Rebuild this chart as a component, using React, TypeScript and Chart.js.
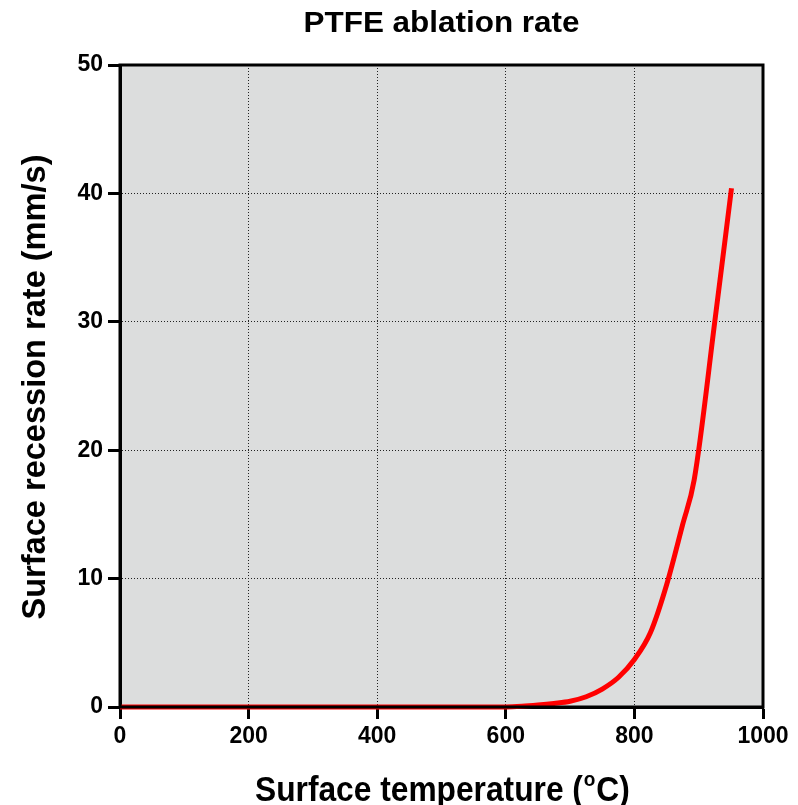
import React, { useEffect, useRef } from "react";
import { Chart, registerables } from "chart.js";

Chart.register(...registerables);

const temperatures = [0, 600, 625, 650, 675, 700, 725, 750, 775, 800, 825, 850, 875, 893, 925, 951];
const rates = [0, 0, 0.05, 0.15, 0.28, 0.45, 0.8, 1.4, 2.3, 3.7, 5.8, 9.5, 14.2, 17.7, 30.0, 40.4];
const xTicks = [0, 200, 400, 600, 800, 1000];
const yTicks = [0, 10, 20, 30, 40, 50];
const chartTitle = "PTFE ablation rate";
const xTitleParts = ["Surface temperature (", "o", "C)"];
const yTitle = "Surface recession rate (mm/s)";

const FONT = "'Liberation Sans', Arial, Helvetica, sans-serif";

function fittedText(ctx: any, text: string, x: number, y: number, size: number, targetW: number) {
  ctx.save();
  ctx.font = `bold ${size}px ${FONT}`;
  const w = ctx.measureText(text).width;
  const sx = targetW / w;
  ctx.translate(x, y);
  ctx.scale(sx, 1);
  ctx.textAlign = "center";
  ctx.textBaseline = "alphabetic";
  ctx.fillText(text, 0, 0);
  ctx.restore();
}

const framePlugin = {
  id: "frame",
  beforeDraw(chart: any) {
    const { ctx, chartArea: a } = chart;
    ctx.save();
    ctx.fillStyle = "#dcdddd";
    ctx.fillRect(a.left, a.top, a.right - a.left, a.bottom - a.top);
    ctx.restore();
  },
  afterDatasetsDraw(chart: any) {
    const { ctx, chartArea: a } = chart;
    ctx.save();
    ctx.strokeStyle = "#000";
    ctx.lineWidth = 3;
    ctx.strokeRect(a.left, a.top, a.right - a.left, a.bottom - a.top);
    ctx.restore();
  },
  afterDraw(chart: any) {
    const { ctx, chartArea: a } = chart;
    const cx = (a.left + a.right) / 2;
    const cy = (a.top + a.bottom) / 2;
    ctx.save();
    ctx.fillStyle = "#000";

    // title
    fittedText(ctx, chartTitle, cx, 32, 29, 276);

    // x-axis title with superscript
    const bigSize = 35;
    const big = `bold ${bigSize}px ${FONT}`;
    const small = `bold 21px ${FONT}`;
    ctx.font = big;
    const w0 = ctx.measureText(xTitleParts[0]).width;
    const w2 = ctx.measureText(xTitleParts[2]).width;
    ctx.font = small;
    const w1 = ctx.measureText(xTitleParts[1]).width;
    const total = w0 + w1 + w2;
    const target = 373;
    const sx = target / total;
    ctx.save();
    ctx.translate(cx - target / 2, 801);
    ctx.scale(sx, 1);
    ctx.textAlign = "left";
    ctx.textBaseline = "alphabetic";
    let x = 0;
    ctx.font = big;
    ctx.fillText(xTitleParts[0], x, 0);
    x += w0;
    ctx.font = small;
    ctx.fillText(xTitleParts[1], x + 1, -15);
    x += w1;
    ctx.font = big;
    ctx.fillText(xTitleParts[2], x + 2, 0);
    ctx.restore();

    // y-axis title
    ctx.save();
    ctx.translate(45, cy + 1);
    ctx.rotate(-Math.PI / 2);
    fittedText(ctx, yTitle, 0, 0, 33, 465);
    ctx.restore();
    ctx.restore();
  },
};

export default function App() {
  const ref = useRef<HTMLCanvasElement | null>(null);
  useEffect(() => {
    if (!ref.current) return;
    const data = temperatures.map((t, i) => ({ x: t, y: rates[i] }));
    const tickFont = { family: FONT, size: 23, weight: "bold" as const };
    const chart = new Chart(ref.current, {
      type: "line",
      data: {
        datasets: [
          {
            data,
            borderColor: "#ff0000",
            borderWidth: 5,
            pointRadius: 0,
            cubicInterpolationMode: "monotone",
            fill: false,
            clip: 4,
          },
        ],
      },
      options: {
        animation: false,
        responsive: true,
        maintainAspectRatio: false,
        layout: { padding: { top: 65, right: 35, left: 0, bottom: 0 } },
        plugins: { legend: { display: false }, title: { display: false }, tooltip: { enabled: false } },
        scales: {
          x: {
            type: "linear",
            min: 0,
            max: 1000,
            afterBuildTicks: (s: any) => {
              s.ticks = xTicks.map((v) => ({ value: v }));
            },
            afterFit: (s: any) => {
              s.height = 98;
            },
            ticks: { font: tickFont, color: "#000", padding: 4, maxRotation: 0, callback: (v: any) => String(v) },
            grid: {
              color: "#222",
              lineWidth: 1,
              tickLength: 12,
              tickWidth: 3,
              tickColor: "#000",
              tickBorderDash: [],
            },
            border: { display: true, color: "#000", width: 3, dash: [1, 2] },
          },
          y: {
            type: "linear",
            min: 0,
            max: 50,
            afterBuildTicks: (s: any) => {
              s.ticks = yTicks.map((v) => ({ value: v }));
            },
            afterFit: (s: any) => {
              s.width = 120;
            },
            ticks: { font: tickFont, color: "#000", padding: 5, callback: (v: any) => String(v) },
            grid: {
              color: "#222",
              lineWidth: 1,
              tickLength: 12,
              tickWidth: 3,
              tickColor: "#000",
              tickBorderDash: [],
            },
            border: { display: true, color: "#000", width: 3, dash: [1, 2] },
          },
        },
      },
      plugins: [framePlugin],
    });
    return () => chart.destroy();
  }, []);
  return (
    <div style={{ position: "absolute", left: 0, top: 0, width: 798, height: 805, background: "#fff" }}>
      <canvas ref={ref} />
    </div>
  );
}
